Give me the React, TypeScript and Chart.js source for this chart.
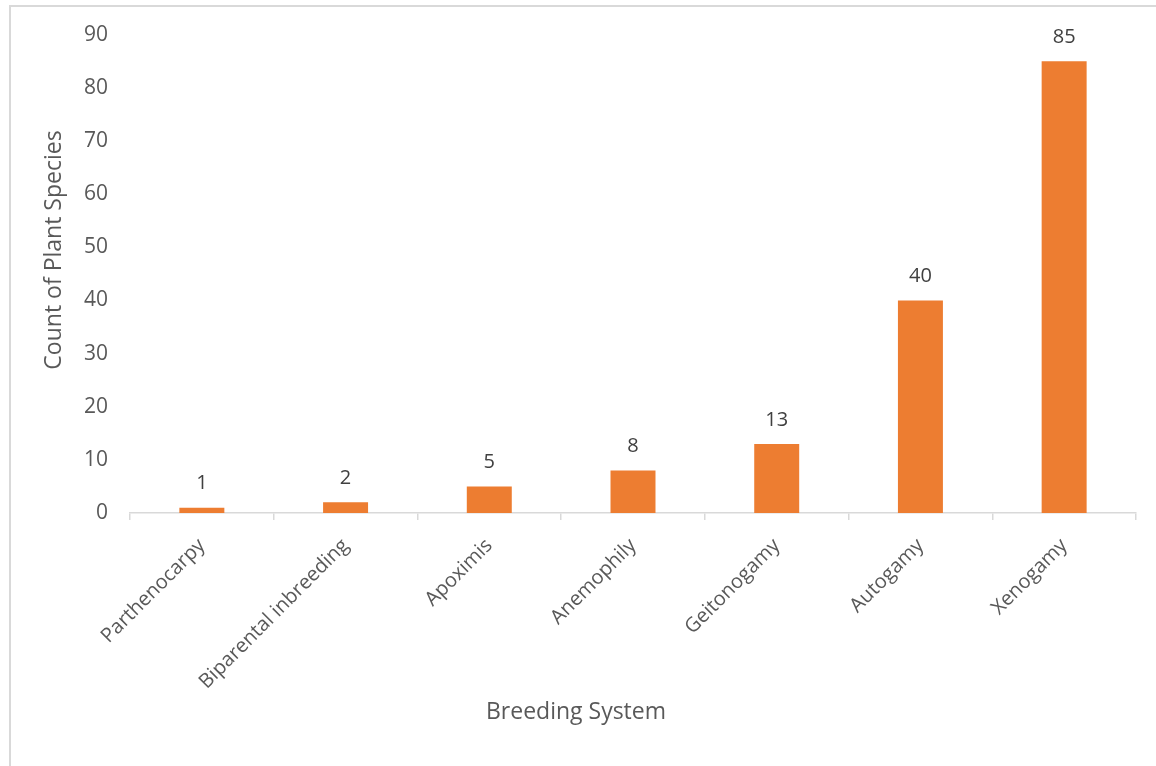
import React, { useEffect, useRef } from "react";
import { Chart, registerables } from "chart.js";

Chart.register(...registerables);

const categories = [
  "Parthenocarpy",
  "Biparental inbreeding",
  "Apoximis",
  "Anemophily",
  "Geitonogamy",
  "Autogamy",
  "Xenogamy",
];
const counts = [1, 2, 5, 8, 13, 40, 85];
const xTitle = "Breeding System";
const yTitle = "Count of Plant Species";

const FONT = "'Open Sans', 'DejaVu Sans', sans-serif";
const TEXT = "#595959";

export default function App() {
  const ref = useRef<HTMLCanvasElement | null>(null);

  useEffect(() => {
    document.body.style.margin = "0";
    const canvas = ref.current!;
    const decor = {
      id: "decor",
      beforeDraw(chart: any) {
        const ctx = chart.ctx;
        ctx.save();
        ctx.fillStyle = "#ffffff";
        ctx.fillRect(0, 0, chart.width, chart.height);
        ctx.strokeStyle = "#d9d9d9";
        ctx.lineWidth = 2;
        ctx.beginPath();
        ctx.moveTo(10, chart.height);
        ctx.lineTo(10, 6);
        ctx.lineTo(chart.width, 6);
        ctx.stroke();
        ctx.restore();
      },
      afterDraw(chart: any) {
        const ctx = chart.ctx;
        ctx.save();
        ctx.fillStyle = TEXT;
        ctx.font = `23px ${FONT}`;
        ctx.textAlign = "center";
        ctx.textBaseline = "middle";
        ctx.fillText(xTitle, 576, 712);
        ctx.translate(54, 250);
        ctx.rotate(-Math.PI / 2);
        ctx.fillText(yTitle, 0, 0);
        ctx.restore();
      },
      afterDatasetsDraw(chart: any) {
        const ctx = chart.ctx;
        const meta = chart.getDatasetMeta(0);
        ctx.save();
        ctx.fillStyle = "#404040";
        ctx.font = `20px ${FONT}`;
        ctx.textAlign = "center";
        ctx.textBaseline = "middle";
        meta.data.forEach((bar: any, i: number) => {
          ctx.fillText(String(counts[i]), bar.x, bar.y - 24);
        });
        ctx.restore();
      },
    };

    const chart = new Chart(canvas, {
      type: "bar",
      data: {
        labels: categories,
        datasets: [
          {
            data: counts,
            backgroundColor: "#ED7D31",
            borderWidth: 0,
            categoryPercentage: 1,
            barPercentage: 0.313,
          },
        ],
      },
      options: {
        responsive: false,
        animation: false,
        layout: { padding: { top: 34, right: 20, left: 0, bottom: 0 } },
        plugins: {
          legend: { display: false },
          tooltip: { enabled: false },
        },
        scales: {
          x: {
            offset: true,
            grid: {
              display: true,
              offset: true,
              drawOnChartArea: false,
              drawTicks: true,
              tickLength: 7,
              color: "#d9d9d9",
              lineWidth: 1.5,
            },
            border: { display: true, color: "#d9d9d9", width: 1.5 },
            ticks: {
              color: TEXT,
              font: { family: FONT, size: 20 },
              maxRotation: 45,
              minRotation: 45,
              padding: 14,
              autoSkip: false,
            },
            afterFit(scale: any) {
              scale.height = 253;
            },
          },
          y: {
            min: 0,
            max: 90,
            grid: { display: false, drawTicks: false },
            border: { display: false },
            ticks: {
              stepSize: 10,
              color: TEXT,
              font: { family: FONT, size: 21 },
              padding: 22,
            },
            afterFit(scale: any) {
              scale.width = 130;
            },
          },
        },
      },
      plugins: [decor],
    } as any);

    return () => chart.destroy();
  }, []);

  return (
    <div style={{ width: 1156, height: 766 }}>
      <canvas ref={ref} width={1156} height={766} />
    </div>
  );
}
